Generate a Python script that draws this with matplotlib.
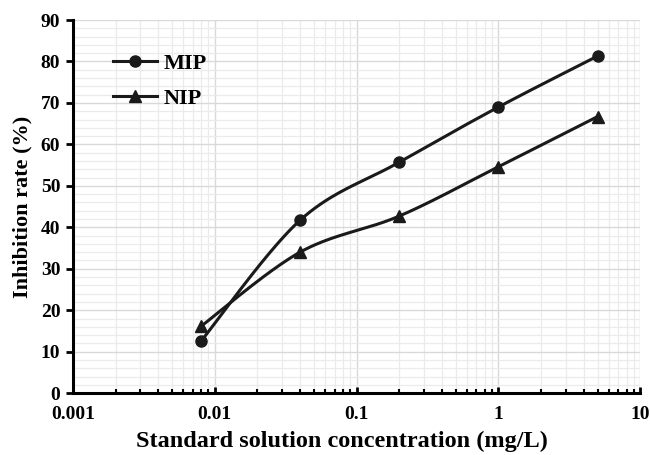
import numpy as np
import matplotlib.pyplot as plt
from matplotlib.ticker import LogLocator, MultipleLocator, FixedLocator, FixedFormatter

# data
conc = [0.008, 0.04, 0.2, 1, 5]
mip = [12.5, 41.7, 55.7, 69.0, 81.3]
nip = [16.1, 34.0, 42.7, 54.6, 66.7]

x_ticks = [0.001, 0.01, 0.1, 1, 10]
x_labels = ['0.001', '0.01', '0.1', '1', '10']

plt.rcParams['font.family'] = ['Liberation Serif', 'DejaVu Serif']
plt.rcParams['font.weight'] = 'bold'


def smooth(x, y, n=40):
  # Excel-like smoothed line: cubic Bezier with catmull-rom controls, done in pixel-ish space
  sx = 141.75  # pixels per decade
  sy = 4.14    # pixels per unit
  px = np.log10(x) * sx
  py = np.array(y) * sy
  pts = np.column_stack([px, py])
  out = []
  for i in range(len(pts) - 1):
    p0 = pts[i - 1] if i > 0 else pts[i]
    p1 = pts[i]
    p2 = pts[i + 1]
    p3 = pts[i + 2] if i + 2 < len(pts) else pts[i + 1]
    c1 = p1 + (p2 - p0) / 6.0
    c2 = p2 - (p3 - p1) / 6.0
    t = np.linspace(0, 1, n)[:, None]
    seg = ((1 - t) ** 3) * p1 + 3 * ((1 - t) ** 2) * t * c1 + 3 * (1 - t) * t ** 2 * c2 + t ** 3 * p2
    out.append(seg if i == 0 else seg[1:])
  out = np.vstack(out)
  return 10 ** (out[:, 0] / sx), out[:, 1] / sy


fig = plt.figure(figsize=(6.5, 4.55), dpi=100)
ax = fig.add_axes([0.112, 0.136, 0.873, 0.82])

ax.set_xscale('log')
ax.set_xlim(0.001, 10)
ax.set_ylim(0, 90)

ax.xaxis.set_major_locator(FixedLocator(x_ticks))
ax.xaxis.set_major_formatter(FixedFormatter(x_labels))
ax.xaxis.set_minor_locator(LogLocator(base=10, subs=np.arange(2, 10)))
ax.yaxis.set_major_locator(MultipleLocator(10))
ax.yaxis.set_minor_locator(MultipleLocator(2))

ax.grid(which='major', color='#d9d9d9', linewidth=1.0)
ax.grid(which='minor', color='#ebebeb', linewidth=0.9)
ax.set_axisbelow(True)

for side in ['top', 'right']:
  ax.spines[side].set_visible(False)
for side in ['left', 'bottom']:
  ax.spines[side].set_linewidth(2.2)
  ax.spines[side].set_color('black')

ax.tick_params(axis='y', which='major', direction='out', length=5, width=2, labelsize=14, pad=4)
ax.tick_params(axis='y', which='minor', length=0)
ax.tick_params(axis='x', which='major', direction='in', length=4, width=2, labelsize=14, pad=9)
ax.tick_params(axis='x', which='minor', direction='in', length=3, width=1.5)

mx, my = smooth(conc, mip)
nx, ny = smooth(conc, nip)
ax.plot(mx, my, color='#1a1a1a', linewidth=2.2)
ax.plot(nx, ny, color='#1a1a1a', linewidth=2.2)
ax.plot(conc, mip, 'o', color='#1a1a1a', markersize=8)
ax.plot(conc, nip, '^', color='#1a1a1a', markersize=8)

# legend proxies
ax.plot([], [], 'o-', color='#1a1a1a', linewidth=2.2, markersize=8, label='MIP')
ax.plot([], [], '^-', color='#1a1a1a', linewidth=2.2, markersize=8, label='NIP')
handles, labels = ax.get_legend_handles_labels()
ax.legend(handles, labels, loc='upper left', bbox_to_anchor=(0.035, 0.965), frameon=False,
          prop={'size': 16, 'weight': 'bold'}, handlelength=2.0, labelspacing=0.65, handletextpad=0.3)

ax.set_xlabel('Standard solution concentration (mg/L)', fontsize=17.5, fontweight='bold')
ax.xaxis.set_label_coords(0.474, -0.1)
ax.set_ylabel('Inhibition rate (%)', fontsize=16, fontweight='bold', labelpad=6)

fig.savefig('out.png', dpi=100)
